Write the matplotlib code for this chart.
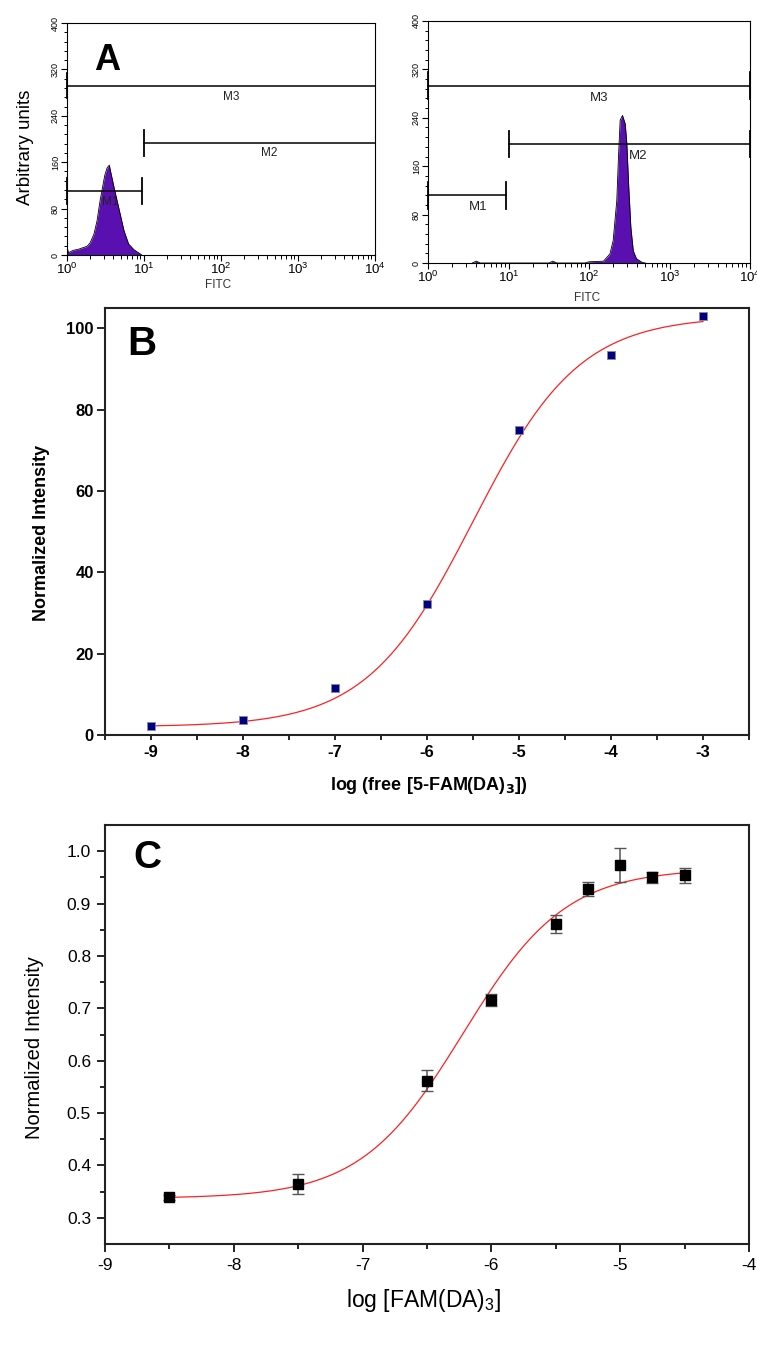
import numpy as np
import matplotlib
matplotlib.use("Agg")
import matplotlib.pyplot as plt
from matplotlib.ticker import MultipleLocator, LogLocator, NullFormatter, FixedLocator

plt.rcParams['font.family'] = ['Liberation Sans', 'DejaVu Sans']
plt.rcParams['axes.unicode_minus'] = False

# ---- panel A : flow cytometry histograms (log10 FITC, counts) ----
histL_logx = [0.00, 0.01, 0.02, 0.08, 0.15, 0.26, 0.30, 0.35, 0.39, 0.43, 0.49, 0.52,
              0.55, 0.56, 0.61, 0.69, 0.74, 0.80, 0.87, 0.95, 0.97]
histL_cnt = [16, 8, 4, 8, 10, 15, 21, 36, 59, 94, 137, 150,
             155, 148, 117, 71, 42, 19, 9, 2, 0]
histR_logx = [0.55, 0.60, 0.65, 1.50, 1.55, 1.60, 1.95, 2.00, 2.18, 2.26, 2.30, 2.345, 2.366,
              2.387, 2.416, 2.45, 2.47, 2.494, 2.52, 2.55, 2.59, 2.66, 2.70]
histR_cnt = [0, 3, 0, 0, 3, 0, 0, 2, 3, 15, 37, 103, 175,
             236, 244, 230, 197, 125, 59, 20, 7, 1, 0]

# gates: name, lo (log10), hi (log10), level, label x (log10), label y, cap at hi end
gatesL = [("M1", 0.0, 0.97, 110, 0.56, 92, True),
          ("M2", 1.0, 4.0, 193, 2.63, 176, False),
          ("M3", 0.0, 4.0, 292, 2.13, 272, False)]
gatesR = [("M1", 0.0, 0.97, 112, 0.62, 92, True),
          ("M2", 1.0, 4.0, 197, 2.61, 177, True),
          ("M3", 0.0, 4.0, 293, 2.13, 273, True)]

# ---- panel B ----
b_x = [-9, -8, -7, -6, -5, -4, -3]
b_y = [2.3, 3.7, 11.6, 32.3, 74.9, 93.5, 103.1]
b_fit = dict(A1=2.0, A2=103.0, x0=-5.5, p=0.75)

# ---- panel C ----
c_x = [-8.5, -7.5, -6.5, -6.0, -5.5, -5.25, -5.0, -4.75, -4.5]
c_y = [0.339, 0.365, 0.562, 0.716, 0.861, 0.928, 0.974, 0.950, 0.954]
c_err = [0.005, 0.019, 0.020, 0.012, 0.017, 0.014, 0.032, 0.011, 0.014]
c_fit = dict(A1=0.337, A2=0.967, x0=-6.22, p=1.09)


def hill(x, A1, A2, x0, p):
    return A1 + (A2 - A1) / (1 + 10 ** ((x0 - x) * p))


W, H = 757, 1345
fig = plt.figure(figsize=(W / 100, H / 100), dpi=100)


def box(l, t, r, b):
    return [l / W, 1 - b / H, (r - l) / W, (b - t) / H]


def fx(x):
    return x / W


def fy(y):
    return 1 - y / H


purple = '#5a0fb0'


def flow_panel(ax, lx, cnt, gates, lab_fs):
    ax.fill_between([10 ** v for v in lx], cnt, 0, color=purple, lw=0)
    ax.plot([10 ** v for v in lx], cnt, color='black', lw=0.6)
    for name, lo, hi, lev, tx, ty, hicap in gates:
        ax.plot([10 ** lo, 10 ** hi], [lev, lev], color='black', lw=1.1, clip_on=False)
        ends = [lo, hi] if hicap else [lo]
        for e in ends:
            ax.plot([10 ** e, 10 ** e], [lev - 22, lev + 22], color='black', lw=1.3, clip_on=False)
        ax.text(10 ** tx, ty, name, ha='center', va='center', fontsize=lab_fs, color='#222')
    ax.set_xscale('log')
    ax.set_xlim(1, 1e4)
    ax.set_ylim(0, 400)
    ax.xaxis.set_major_locator(LogLocator(base=10, numticks=10))
    ax.xaxis.set_minor_locator(LogLocator(base=10, subs=np.arange(2, 10), numticks=10))
    ax.xaxis.set_minor_formatter(NullFormatter())
    ax.yaxis.set_major_locator(MultipleLocator(80))
    ax.yaxis.set_minor_locator(MultipleLocator(16))
    ax.tick_params(axis='x', which='major', length=4, width=0.8, labelsize=9.5, pad=1)
    ax.tick_params(axis='x', which='minor', length=3, width=0.7)
    ax.tick_params(axis='y', which='major', length=4, width=0.8, labelsize=6.5, pad=1)
    ax.tick_params(axis='y', which='minor', length=2.5, width=0.7)
    for lab in ax.get_yticklabels():
        lab.set_rotation(90)
        lab.set_va('center')
    for s in ax.spines.values():
        s.set_linewidth(0.8)


axL = fig.add_axes(box(67, 23, 375, 255))
flow_panel(axL, histL_logx, histL_cnt, gatesL, 8.5)
axR = fig.add_axes(box(428, 21, 750, 263))
flow_panel(axR, histR_logx, histR_cnt, gatesR, 9.5)

fig.text(fx(25), fy(147), "Arbitrary units", rotation=90, ha='center', va='center', fontsize=13.5)
fig.text(fx(218), fy(285), "FITC", ha='center', va='center', fontsize=8.5, color='#333')
fig.text(fx(587), fy(298), "FITC", ha='center', va='center', fontsize=8.5, color='#333')
fig.text(fx(107), fy(61), "A", ha='center', va='center', fontsize=26, fontweight='bold')

# ---- panel B ----
axB = fig.add_axes(box(105, 308, 749, 735))
xs = np.linspace(-9, -3, 300)
axB.plot(xs, hill(xs, **b_fit), color='#ff2020', lw=0.9)
axB.plot(b_x, b_y, 's', color='#000080', ms=5.2, mec='#8888aa', mew=0.6)
axB.set_xlim(-9.5, -2.5)
axB.set_ylim(0, 105)
axB.xaxis.set_major_locator(MultipleLocator(1))
axB.xaxis.set_minor_locator(MultipleLocator(0.5))
axB.yaxis.set_major_locator(MultipleLocator(20))
axB.tick_params(axis='x', which='both', length=3.5, width=1.2, labelsize=12, pad=4)
axB.tick_params(axis='y', which='major', length=6, width=1.2, labelsize=12, pad=2)
for lab in axB.get_xticklabels() + axB.get_yticklabels():
    lab.set_fontweight('bold')
for s in axB.spines.values():
    s.set_linewidth(1.5)
    s.set_color('#222')
fig.text(fx(42), fy(533), "Normalized Intensity", rotation=90, ha='center', va='center',
         fontsize=13, fontweight='bold')
fig.text(fx(429), fy(785), "log (free [5-FAM(DA)$_\\mathbf{3}$])", ha='center', va='center',
         fontsize=13, fontweight='bold')
fig.text(fx(142), fy(344), "B", ha='center', va='center', fontsize=29, fontweight='bold')

# ---- panel C ----
axC = fig.add_axes(box(105, 825, 749, 1244))
xs = np.linspace(-8.5, -4.5, 300)
axC.plot(xs, hill(xs, **c_fit), color='#ff2020', lw=0.9)
axC.errorbar(c_x, c_y, yerr=c_err, fmt='s', color='black', ms=6.5, ecolor='#555555',
             elinewidth=1.1, capsize=4, capthick=1.0)
axC.set_xlim(-9, -4)
axC.set_ylim(0.25, 1.05)
axC.xaxis.set_major_locator(MultipleLocator(1))
axC.xaxis.set_minor_locator(MultipleLocator(0.5))
axC.yaxis.set_major_locator(FixedLocator([0.3, 0.4, 0.5, 0.6, 0.7, 0.8, 0.9, 1.0]))
axC.yaxis.set_minor_locator(FixedLocator([0.35, 0.45, 0.55, 0.65, 0.75, 0.85, 0.95]))
axC.tick_params(axis='both', which='major', length=6, width=1.2, labelsize=12.5, pad=4)
axC.tick_params(axis='both', which='minor', length=3.5, width=1.2)
axC.set_yticklabels(['0.3', '0.4', '0.5', '0.6', '0.7', '0.8', '0.9', '1.0'])
for s in axC.spines.values():
    s.set_linewidth(1.5)
    s.set_color('#222')
fig.text(fx(35), fy(1048), "Normalized Intensity", rotation=90, ha='center', va='center',
         fontsize=14.5)
fig.text(fx(424), fy(1300), "log [FAM(DA)$_\\mathregular{3}$]", ha='center', va='center',
         fontsize=16.5)
fig.text(fx(147), fy(858), "C", ha='center', va='center', fontsize=28, fontweight='bold')

fig.savefig("out.png", dpi=100)
